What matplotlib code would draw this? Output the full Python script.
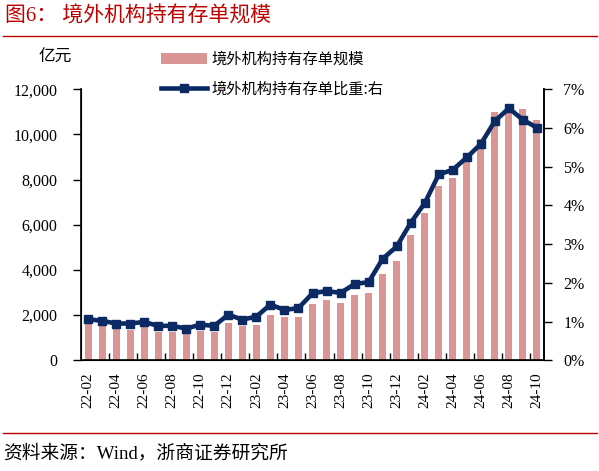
import matplotlib
matplotlib.use("Agg")
import matplotlib.pyplot as plt
from matplotlib.lines import Line2D
from matplotlib.patches import Patch
from matplotlib.ticker import FuncFormatter, FixedLocator

# --- data ---
months = [
    "22-02", "22-03", "22-04", "22-05", "22-06", "22-07", "22-08", "22-09", "22-10", "22-11", "22-12",
    "23-01", "23-02", "23-03", "23-04", "23-05", "23-06", "23-07", "23-08", "23-09", "23-10", "23-11",
    "23-12", "24-01", "24-02", "24-03", "24-04", "24-05", "24-06", "24-07", "24-08", "24-09", "24-10",
]
holdings = [
    1590, 1530, 1400, 1355, 1480, 1270, 1270, 1220, 1310, 1270, 1665,
    1530, 1575, 2010, 1930, 1930, 2490, 2670, 2540, 2890, 2980, 3820,
    4400, 5550, 6520, 7730, 8080, 8950, 9810, 11000, 11050, 11130, 10650,
]
share_pct = [
    1.06, 1.02, 0.95, 0.95, 0.99, 0.89, 0.89, 0.82, 0.92, 0.89, 1.18,
    1.05, 1.13, 1.44, 1.30, 1.35, 1.73, 1.79, 1.74, 1.97, 2.02, 2.62,
    2.94, 3.55, 4.06, 4.80, 4.92, 5.24, 5.59, 6.18, 6.51, 6.21, 6.01,
]
bar_label = "境外机构持有存单规模"
line_label = "境外机构持有存单比重:右"

BAR_COLOR = "#D99694"
LINE_COLOR = "#0B2A63"
RED = "#C00000"
LATIN_CJK = ["Liberation Serif", "Noto Sans CJK SC"]
CJK = ["Noto Sans CJK SC", "DejaVu Sans"]

plt.rcParams["font.family"] = LATIN_CJK

fig = plt.figure(figsize=(5.99, 4.71), dpi=100)
ax = fig.add_axes([81 / 599, 1 - 360.3 / 471, 463 / 599, 271 / 471])
x = list(range(len(months)))

ax.bar(x, holdings, width=0.5, color=BAR_COLOR, zorder=2)
ax.set_xlim(-0.5, len(months) - 0.5)
ax.set_ylim(0, 12000)
ax.set_yticks(range(0, 12001, 2000))
ax.yaxis.set_major_formatter(FuncFormatter(lambda v, _: f"{int(v):,}"))
ax.tick_params(axis="y", direction="out", length=6, width=1, pad=11, labelsize=11.5)

# labels under every other bar, tick marks on the bar boundaries between them
ax.set_xticks(x[::2])
ax.set_xticklabels(months[::2], rotation=90, fontsize=11)
ax.xaxis.set_minor_locator(FixedLocator([i + 0.5 for i in range(1, len(months) - 1, 2)]))
ax.tick_params(axis="x", which="major", length=0, pad=9)
ax.tick_params(axis="x", which="minor", direction="in", length=5, width=1)
ax.spines["top"].set_visible(False)
for s in ("left", "bottom", "right"):
    ax.spines[s].set_linewidth(1.2)

ax2 = ax.twinx()
ax2.plot(x, share_pct, color=LINE_COLOR, linewidth=3.3, marker="s", markersize=5.5, zorder=3)
ax2.set_ylim(0, 7)
ax2.set_yticks(range(0, 8))
ax2.yaxis.set_major_formatter(FuncFormatter(lambda v, _: f"{int(v)}%"))
ax2.tick_params(axis="y", direction="out", length=6, width=1, pad=8, labelsize=11.5)
ax2.spines["top"].set_visible(False)
ax2.spines["right"].set_linewidth(1.2)

# legend above the plot
handles = [
    Patch(facecolor=BAR_COLOR, edgecolor="none"),
    Line2D([], [], color=LINE_COLOR, linewidth=3.3, marker="s", markersize=5.5),
]
fig.legend(handles, [bar_label, line_label], loc="upper left",
           bbox_to_anchor=(147 / 599, 1 - 37 / 471), frameon=False, numpoints=1,
           handlelength=3.0, handleheight=0.8, handletextpad=0.3, labelspacing=0.85,
           prop={"family": CJK, "size": 11})

fig.text(55 / 599, 1 - 57 / 471, "亿元", ha="center", va="center", family=CJK, fontsize=12)

# title, rules and source
fig.text(5 / 599, 1 - 17 / 471, "图6： 境外机构持有存单规模", ha="left", va="center",
         color=RED, fontsize=15, family=LATIN_CJK)
fig.add_artist(Line2D([3 / 599, 597 / 599], [1 - 35.7 / 471] * 2, color=RED, linewidth=1))
fig.add_artist(Line2D([3 / 599, 597 / 599], [1 - 433 / 471] * 2, color=RED, linewidth=1))
fig.text(3 / 599, 1 - 453 / 471, "资料来源：Wind，浙商证券研究所", ha="left", va="center",
         fontsize=13.5, family=LATIN_CJK)

fig.savefig("out.png", dpi=100)
